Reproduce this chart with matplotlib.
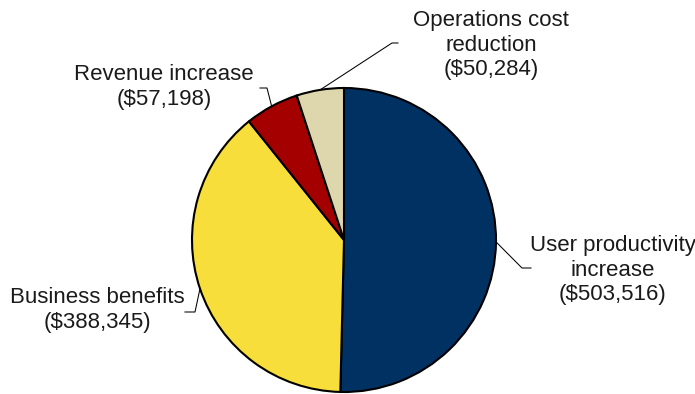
import numpy as np
import matplotlib.pyplot as plt

plt.rcParams['font.family'] = ['Liberation Sans', 'DejaVu Sans']

# 資料
categories = ["User productivity\nincrease", "Business benefits",
              "Revenue increase", "Operations cost\nreduction"]
values = [503516, 388345, 57198, 50284]
colors = ['#003163', '#F7DE3A', '#A50000', '#DED6AD']

W, H = 695, 394
fig = plt.figure(figsize=(W / 100, H / 100), dpi=100)
ax = fig.add_axes([0, 0, 1, 1])
ax.set_xlim(0, W)
ax.set_ylim(0, H)
ax.set_aspect('equal')
ax.axis('off')

cx, cy, r = 344, H - 240, 152
wedges, _ = ax.pie(values, colors=colors, startangle=90, counterclock=False,
                   center=(cx, cy), radius=r, frame=True,
                   wedgeprops=dict(edgecolor='black', linewidth=1.5))
ax.set_xlim(0, W)
ax.set_ylim(0, H)
ax.axis('off')

# 標籤位置 (像素, 由上往下): 文字中心, 折點, 水平線終點
layout = [
    ((613, 270), (522, 268), (531, 268)),
    ((97, 310), (195, 312), (185, 312)),
    ((164, 87), (267, 88), (260, 88)),
    ((491, 45), (392, 43), (398, 43)),
]

for w, name, val, (tp, kp, hp) in zip(wedges, categories, values, layout):
    mid = np.deg2rad((w.theta1 + w.theta2) / 2)
    ex, ey = cx + r * np.cos(mid), cy + r * np.sin(mid)
    ax.plot([ex, kp[0], hp[0]], [ey, H - kp[1], H - hp[1]],
            color='black', linewidth=0.75)
    ax.text(tp[0], H - tp[1], f"{name}\n(${val:,})", ha='center', va='center',
            fontsize=16, color='#1a1a1a', linespacing=1.2)

fig.savefig('out.png', dpi=100)
